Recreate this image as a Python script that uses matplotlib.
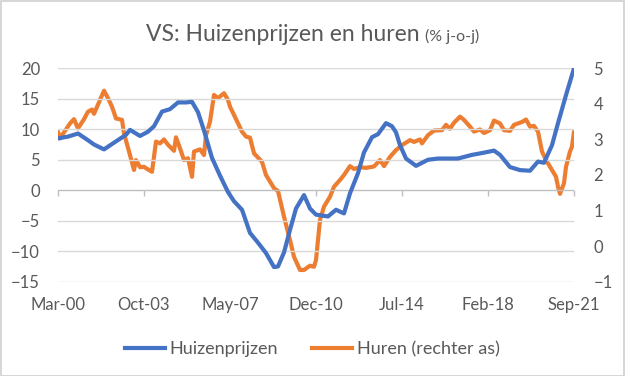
import matplotlib
matplotlib.use("Agg")
import matplotlib.pyplot as plt
from matplotlib.patches import Rectangle
from matplotlib.lines import Line2D
import pandas as pd

# ---- data (month offsets from Mar-2000) ----
start = "2000-03"
end = "2021-09"

hp_months = [0, 5, 10, 15, 18, 23, 28, 34, 36, 41, 45, 48, 52, 56, 60, 64, 67, 70, 73,
             77, 81, 85, 88, 92, 96, 100, 104, 108, 110, 113, 116, 119, 123, 126, 129,
             135, 139, 143, 146, 150, 153, 157, 160, 164, 167, 169, 171, 174, 179, 185,
             190, 200, 207, 212, 218, 221, 226, 231, 236, 240, 243, 247, 250, 254, 258]
hp_values = [8.5, 8.8, 9.3, 8.2, 7.5, 6.7, 7.8, 9.1, 9.9, 8.9, 9.6, 10.5, 12.9, 13.3, 14.4,
             14.4, 14.5, 12.8, 9.8, 5.3, 2.4, -0.3, -1.8, -3.2, -7.0, -8.6, -10.3, -12.6,
             -12.5, -10.2, -6.5, -3.0, -0.8, -3.0, -4.0, -4.3, -3.2, -3.8, -0.5, 2.8, 6.2,
             8.7, 9.2, 11.0, 10.5, 9.5, 7.4, 5.2, 4.0, 5.0, 5.2, 5.2, 5.8, 6.1, 6.5, 5.8,
             3.8, 3.3, 3.2, 4.7, 4.5, 7.4, 11.0, 15.6, 20.0]

rent_months = [0, 1, 3, 6, 8, 10, 13, 15, 17, 18, 21, 23, 25, 27, 29, 32, 33, 36, 38, 39,
               41, 43, 44, 47, 49, 51, 53, 55, 58, 59, 61, 63, 65, 67, 68, 71, 73, 74, 76,
               78, 80, 83, 85, 86, 88, 92, 94, 96, 98, 102, 104, 108, 110, 113, 116, 118,
               121, 123, 126, 128, 129, 130, 131, 133, 136, 138, 141, 143, 146, 148, 151,
               154, 158, 161, 163, 166, 169, 172, 176, 178, 181, 182, 185, 188, 192, 194,
               196, 198, 201, 203, 206, 208, 211, 213, 216, 218, 221, 223, 226, 228, 232,
               234, 236, 238, 240, 242, 244, 247, 249, 250, 251, 253, 254, 256, 257, 258]
rent_values = [3.22, 3.03, 3.2, 3.45, 3.57, 3.31, 3.57, 3.78, 3.84, 3.72, 4.11, 4.37, 4.16,
               3.92, 3.59, 3.55, 3.17, 2.56, 2.14, 2.42, 2.22, 2.23, 2.19, 2.09, 2.94, 2.89,
               3.0, 2.85, 2.68, 3.06, 2.75, 2.42, 2.47, 1.95, 2.66, 2.72, 2.56, 3.12, 3.5,
               4.25, 4.16, 4.3, 4.11, 3.92, 3.69, 3.22, 3.08, 3.05, 2.61, 2.37, 2.0, 1.63,
               1.55, 0.83, 0.17, -0.3, -0.67, -0.67, -0.55, -0.58, -0.39, 0.17, 0.74, 1.11,
               1.39, 1.67, 1.86, 2.0, 2.25, 2.17, 2.22, 2.2, 2.24, 2.42, 2.25, 2.51, 2.7,
               2.84, 2.98, 2.93, 3.0, 2.89, 3.12, 3.25, 3.26, 3.41, 3.3, 3.47, 3.64, 3.55,
               3.36, 3.22, 3.28, 3.18, 3.26, 3.53, 3.45, 3.26, 3.24, 3.41, 3.49, 3.56, 3.36,
               3.38, 3.22, 2.66, 2.42, 2.14, 1.95, 1.67, 1.47, 1.77, 2.23, 2.66, 2.8, 3.22]

x_labels = ["Mar-00", "Oct-03", "May-07", "Dec-10", "Jul-14", "Feb-18", "Sep-21"]
left_ticks = [-15, -10, -5, 0, 5, 10, 15, 20]
right_ticks = [-1, 0, 1, 2, 3, 4, 5]

title_main = "VS: Huizenprijzen en huren"
title_sub = "(% j-o-j)"
name_hp = "Huizenprijzen"
name_rent = "Huren (rechter as)"

# ---- style ----
BLUE = "#4472C4"
ORANGE = "#ED7D31"
TXT = "#595959"
GRID = "#D9D9D9"
FONT = ["Lato", "DejaVu Sans"]
plt.rcParams["font.family"] = FONT
LW = 3.0
TICKFS = 12

fig = plt.figure(figsize=(6.25, 3.76), dpi=100)
fig.patch.set_facecolor("white")
fig.patches.append(Rectangle((0.001, 0.001), 0.997, 0.996, transform=fig.transFigure,
                             fill=False, edgecolor="#D0D0D0", linewidth=1.2))

L, R = 58 / 625, 574 / 625
B, T = 1 - 281.7 / 376, 1 - 68.3 / 376
ax = fig.add_axes([L, B, R - L, T - B])
ax2 = ax.twinx()

periods = pd.period_range(start, end, freq="M")
tick_pos = [periods.get_loc(pd.Period(pd.to_datetime(lbl, format="%b-%y"), freq="M"))
            for lbl in x_labels]

ax.plot(hp_months, hp_values, color=BLUE, lw=LW, solid_capstyle="round", zorder=3)
ax2.plot(rent_months, rent_values, color=ORANGE, lw=LW, solid_capstyle="round", zorder=3)

ax.set_xlim(0, len(periods) - 1)
ax.set_ylim(-15, 20)
ax2.set_ylim(-1, 5)
ax.set_yticks(left_ticks)
ax2.set_yticks(right_ticks)

for a in (ax, ax2):
    for s in a.spines.values():
        s.set_visible(False)
    a.set_facecolor("none")
ax.set_zorder(ax2.get_zorder() + 1)

# grid lines (skip the zero line which is the category axis)
for v in left_ticks:
    if v != 0:
        ax.axhline(v, color=GRID, lw=1.0, zorder=0)
ax.axhline(0, color="#BFBFBF", lw=1.0, zorder=1)

ax.tick_params(axis="y", length=0, pad=13, labelsize=TICKFS, labelcolor=TXT)
ax2.tick_params(axis="y", length=0, pad=14, labelsize=TICKFS, labelcolor=TXT)

ax.set_xticks(tick_pos)
ax.set_xticklabels(x_labels)
ax.tick_params(axis="x", length=0, pad=11, labelsize=TICKFS, labelcolor=TXT)

# tick marks on the category axis at value 0
frac0 = (0 - (-15)) / (20 - (-15))
sec = ax.secondary_xaxis(frac0)
sec.set_xticks(tick_pos)
sec.set_xticklabels([])
sec.tick_params(axis="x", direction="out", length=4, color="#BFBFBF", width=1.0)
sec.spines["bottom"].set_visible(False)
sec.spines["top"].set_visible(False)

# title
t1 = fig.text(0.0, 1 - 41 / 376, title_main, ha="left", va="baseline",
              fontsize=16.5, color=TXT)
t2 = fig.text(0.0, 1 - 41 / 376, title_sub, ha="left", va="baseline",
              fontsize=11.5, color=TXT)
fig.canvas.draw()
r = fig.canvas.get_renderer()
w1 = t1.get_window_extent(r).width
w2 = t2.get_window_extent(r).width
gap = 6
total = w1 + gap + w2
x0 = (fig.bbox.width - total) / 2
t1.set_x(x0 / fig.bbox.width)
t2.set_x((x0 + w1 + gap) / fig.bbox.width)

handles = [Line2D([], [], color=BLUE, lw=LW), Line2D([], [], color=ORANGE, lw=LW)]
leg = fig.legend(handles, [name_hp, name_rent], loc="center", ncol=2,
                 bbox_to_anchor=(0.5, 1 - 349 / 376), frameon=False, fontsize=13,
                 handlelength=2.2, handletextpad=0.25, columnspacing=1.9)
for txt in leg.get_texts():
    txt.set_color(TXT)

fig.savefig("out.png", dpi=100, facecolor="white")
